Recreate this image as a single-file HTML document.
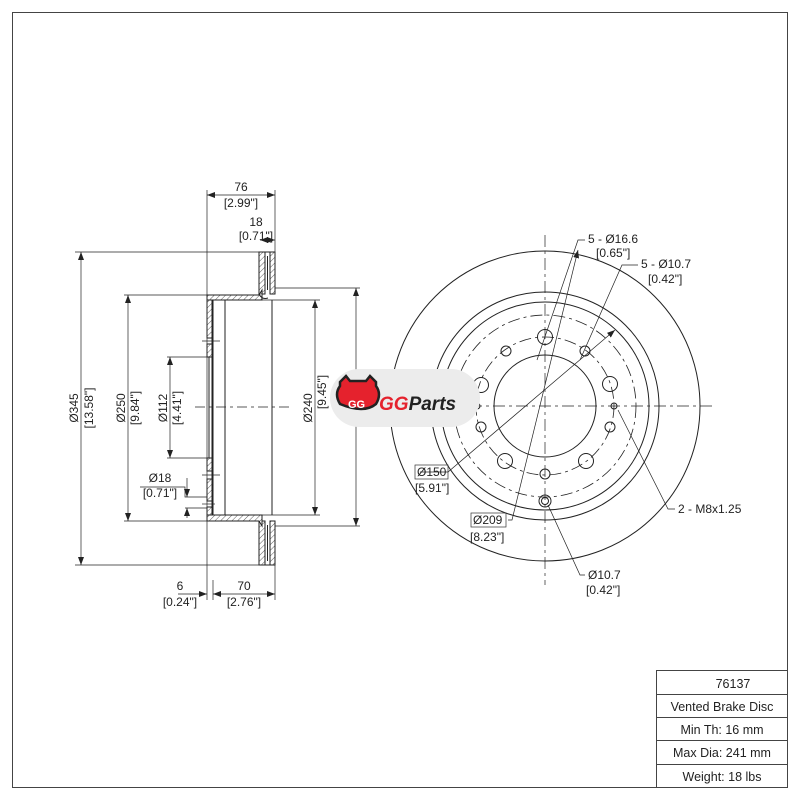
<!DOCTYPE html>
<html><head><meta charset="utf-8"><style>
html,body{margin:0;padding:0;background:#fff}
svg{display:block}
text{font-family:"Liberation Sans","DejaVu Sans",sans-serif;fill:#222}
</style></head><body>
<svg width="800" height="800" viewBox="0 0 800 800" xmlns="http://www.w3.org/2000/svg">
<defs>
<pattern id="h" width="4" height="4" patternUnits="userSpaceOnUse" patternTransform="rotate(45)">
<rect width="4" height="4" fill="#fff"/><line x1="0" y1="0" x2="0" y2="4" stroke="#333" stroke-width="0.8"/></pattern>
<marker id="a" markerWidth="8" markerHeight="6" refX="8" refY="3" orient="auto-start-reverse" markerUnits="userSpaceOnUse"><path d="M0,0 L8,3 L0,6z" fill="#222"/></marker>
</defs>
<rect x="12.5" y="12.5" width="775" height="775" fill="none" stroke="#444" stroke-width="1"/>

<g stroke="#222" stroke-width="1" fill="none">
<rect x="259" y="252" width="6" height="42" fill="url(#h)"/>
<rect x="270" y="252" width="5" height="42" fill="url(#h)"/>
<line x1="265" y1="256" x2="265" y2="290"/><line x1="267.5" y1="256" x2="267.5" y2="290"/><line x1="270" y1="256" x2="270" y2="290"/>
<line x1="265" y1="252" x2="270" y2="252"/>
<rect x="259" y="521" width="6" height="44" fill="url(#h)"/>
<rect x="270" y="521" width="5" height="44" fill="url(#h)"/>
<line x1="265" y1="525" x2="265" y2="561"/><line x1="267.5" y1="525" x2="267.5" y2="561"/><line x1="270" y1="525" x2="270" y2="561"/>
<line x1="265" y1="565" x2="270" y2="565"/>
<path d="M207,295 L259,295 L262,290 L262,300 L213,300 L213,302 L207,302z" fill="url(#h)"/>
<path d="M259,294 Q262,300 268,298" />
<path d="M207,521 L259,521 L262,526 L262,515 L213,515 L213,513 L207,513z" fill="url(#h)"/>
<rect x="207" y="300" width="5" height="38" fill="url(#h)"/>
<rect x="207" y="344" width="5" height="13" fill="url(#h)"/>
<rect x="207" y="458" width="5" height="13" fill="url(#h)"/>
<rect x="207" y="479" width="5" height="22" fill="url(#h)"/>
<rect x="207" y="507" width="5" height="8" fill="url(#h)"/>
<line x1="209" y1="357" x2="209" y2="458"/>
<line x1="212" y1="300" x2="212" y2="515"/>
<line x1="213" y1="300" x2="213" y2="515"/>
<line x1="225" y1="300" x2="225" y2="515"/>
<line x1="272" y1="300" x2="272" y2="515"/>
<line x1="202" y1="341" x2="220" y2="341" stroke-width="0.7"/>
<line x1="202" y1="475" x2="220" y2="475" stroke-width="0.7"/>
<line x1="202" y1="504" x2="215" y2="504" stroke-width="0.7"/>
<line x1="195" y1="407" x2="290" y2="407" stroke-dasharray="10,4,3,4" stroke-width="0.7"/>

<g stroke-width="0.7">
<line x1="207" y1="190" x2="207" y2="600"/>
<line x1="213" y1="580" x2="213" y2="600"/>
<line x1="275" y1="190" x2="275" y2="252"/>
<line x1="275" y1="565" x2="275" y2="600"/>
<line x1="207" y1="195" x2="275" y2="195" marker-start="url(#a)" marker-end="url(#a)"/>
<line x1="260" y1="240" x2="275" y2="240" marker-start="url(#a)" marker-end="url(#a)"/>
<line x1="178" y1="594" x2="207" y2="594" marker-end="url(#a)"/>
<line x1="213" y1="594" x2="275" y2="594" marker-start="url(#a)" marker-end="url(#a)"/>
<line x1="75" y1="252" x2="259" y2="252"/><line x1="75" y1="565" x2="259" y2="565"/>
<line x1="81" y1="252" x2="81" y2="565" marker-start="url(#a)" marker-end="url(#a)"/>
<line x1="124" y1="295" x2="207" y2="295"/><line x1="124" y1="521" x2="207" y2="521"/>
<line x1="128" y1="295" x2="128" y2="521" marker-start="url(#a)" marker-end="url(#a)"/>
<line x1="167" y1="357" x2="207" y2="357"/><line x1="167" y1="458" x2="207" y2="458"/>
<line x1="170" y1="357" x2="170" y2="458" marker-start="url(#a)" marker-end="url(#a)"/>
<polyline points="140,487 185,487 185,497 207,497"/>
<line x1="185" y1="508" x2="207" y2="508"/>
<line x1="187" y1="478" x2="187" y2="497" marker-end="url(#a)"/>
<line x1="187" y1="518" x2="187" y2="508" marker-end="url(#a)"/>
<line x1="275" y1="288" x2="360" y2="288"/><line x1="275" y1="526" x2="360" y2="526"/>
<line x1="356" y1="288" x2="356" y2="526" marker-start="url(#a)" marker-end="url(#a)"/>
<line x1="262" y1="300" x2="320" y2="300"/><line x1="262" y1="515" x2="320" y2="515"/>
<line x1="315" y1="300" x2="315" y2="515" marker-start="url(#a)" marker-end="url(#a)"/>
</g>

<circle cx="545" cy="406" r="155"/>
<circle cx="545" cy="406" r="114"/>
<circle cx="545" cy="406" r="104"/>
<circle cx="545" cy="406" r="91" stroke-dasharray="12,4,3,4" stroke-width="0.8"/>
<circle cx="545" cy="406" r="69" stroke-dasharray="12,4,3,4" stroke-width="0.8"/>
<circle cx="545" cy="406" r="51"/>
<line x1="545" y1="235" x2="545" y2="585" stroke-dasharray="12,4,3,4" stroke-width="0.7"/>
<line x1="470" y1="406" x2="715" y2="406" stroke-dasharray="12,4,3,4" stroke-width="0.7"/>
<circle cx="545" cy="337" r="7.5"/>
<circle cx="610" cy="384" r="7.5"/>
<circle cx="586" cy="461" r="7.5"/>
<circle cx="505" cy="461" r="7.5"/>
<circle cx="481" cy="385" r="7.5"/>
<circle cx="506" cy="351" r="5"/>
<circle cx="585" cy="351" r="5"/>
<circle cx="610" cy="427" r="5"/>
<circle cx="545" cy="474" r="5"/>
<circle cx="481" cy="427" r="5"/>
<circle cx="614" cy="406" r="3"/>
<circle cx="477" cy="406" r="3"/>
<circle cx="545" cy="501" r="6"/><circle cx="545" cy="501" r="3.5"/>
<g stroke-width="0.7">
<polyline points="585,240 578,240 537,360" />
<polyline points="638,265 622,265 580,360"/>
<polyline points="420,472 448,472 615,330" marker-end="url(#a)"/>
<polyline points="508,520 512,520 578,250" marker-end="url(#a)"/>
<polyline points="675,509 668,509 618,410"/>
<polyline points="585,575 580,575 548,505"/>
</g>
</g>

<rect x="330" y="369" width="150" height="58" rx="29" fill="#ececec"/>
<path d="M340,382 l6,-6 l4,5 h16 l4,-5 l6,6 v4 q6,8 0,18 q-12,10 -36,0 q-6,-10 0,-18z" fill="#e5222d" stroke="#222" stroke-width="2.5"/>
<text x="348" y="408" font-size="11" font-weight="bold" style="fill:#fff">GG</text>
<text x="379" y="410" font-size="19" font-weight="bold" font-style="italic"><tspan style="fill:#e5222d">GG</tspan><tspan style="fill:#222">Parts</tspan></text>

<g font-size="12">
<text x="241" y="191" text-anchor="middle">76</text>
<text x="241" y="207" text-anchor="middle">[2.99"]</text>
<text x="256" y="226" text-anchor="middle">18</text>
<text x="256" y="240" text-anchor="middle">[0.71"]</text>
<text x="180" y="590" text-anchor="middle">6</text>
<text x="180" y="606" text-anchor="middle">[0.24"]</text>
<text x="244" y="590" text-anchor="middle">70</text>
<text x="244" y="606" text-anchor="middle">[2.76"]</text>
<text x="160" y="482" text-anchor="middle">Ø18</text>
<text x="160" y="497" text-anchor="middle">[0.71"]</text>
<text transform="translate(78,408) rotate(-90)" text-anchor="middle">Ø345</text>
<text transform="translate(93,408) rotate(-90)" text-anchor="middle">[13.58"]</text>
<text transform="translate(125,408) rotate(-90)" text-anchor="middle">Ø250</text>
<text transform="translate(139,408) rotate(-90)" text-anchor="middle">[9.84"]</text>
<text transform="translate(167,408) rotate(-90)" text-anchor="middle">Ø112</text>
<text transform="translate(181,408) rotate(-90)" text-anchor="middle">[4.41"]</text>
<text transform="translate(312,408) rotate(-90)" text-anchor="middle">Ø240</text>
<text transform="translate(326,392) rotate(-90)" text-anchor="middle">[9.45"]</text>
<text x="588" y="243">5 - Ø16.6</text>
<text x="596" y="257">[0.65"]</text>
<text x="641" y="268">5 - Ø10.7</text>
<text x="648" y="283">[0.42"]</text>
<text x="678" y="513">2 - M8x1.25</text>
<text x="588" y="579">Ø10.7</text>
<text x="586" y="594">[0.42"]</text>
<rect x="415" y="465" width="33" height="14" fill="none" stroke="#333" stroke-width="0.7"/>
<text x="417" y="476">Ø150</text>
<text x="415" y="492">[5.91"]</text>
<rect x="471" y="513" width="35" height="14" fill="none" stroke="#333" stroke-width="0.7"/>
<text x="473" y="524">Ø209</text>
<text x="470" y="541">[8.23"]</text>
</g>

<g stroke="#444" stroke-width="1" fill="none">
<rect x="656.5" y="670.5" width="131" height="117"/>
<line x1="656" y1="694.5" x2="788" y2="694.5"/>
<line x1="656" y1="717.5" x2="788" y2="717.5"/>
<line x1="656" y1="740.5" x2="788" y2="740.5"/>
<line x1="656" y1="764.5" x2="788" y2="764.5"/>
</g>
<g font-size="12.5" text-anchor="middle">
<text x="733" y="688">76137</text>
<text x="722" y="711">Vented Brake Disc</text>
<text x="722" y="734">Min Th: 16 mm</text>
<text x="722" y="757">Max Dia: 241 mm</text>
<text x="722" y="781">Weight: 18 lbs</text>
</g>
</svg>
</body></html>
